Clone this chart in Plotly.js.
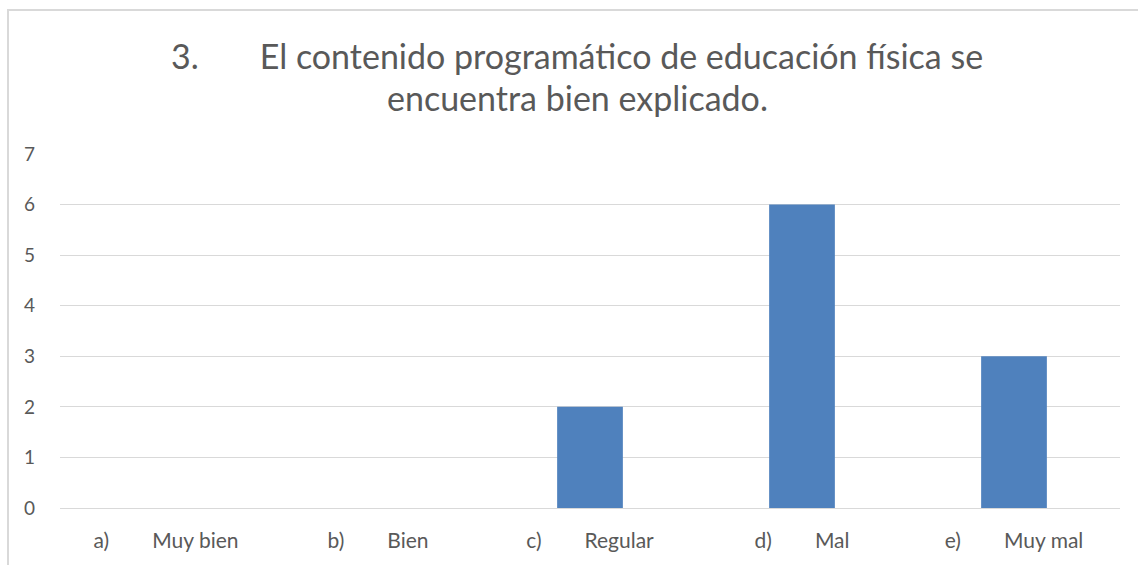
<!DOCTYPE html>
<html>
<head>
<meta charset="utf-8">
<script src="https://cdn.plot.ly/plotly-3.0.1.min.js"></script>
<style>
html,body{margin:0;padding:0;background:#fff;}
#wrap{position:relative;width:1138px;height:565px;overflow:hidden;}
#chart{position:absolute;left:0;top:0;width:1138px;height:565px;}
#frame{position:absolute;left:7px;top:9px;width:1140px;height:600px;border:2px solid #d9d9d9;box-sizing:border-box;pointer-events:none;}
</style>
</head>
<body>
<div id="wrap"><div id="chart"></div><div id="frame"></div></div>
<script>
var NB = '\u00A0';
var gap = NB.repeat(8);
var letters = ['a)', 'b)', 'c)', 'd)', 'e)'];
var names = ['Muy bien', 'Bien', 'Regular', 'Mal', 'Muy mal'];
var categories = letters.map(function(l, i){ return l + gap + names[i]; });
var values = [0, 0, 2, 6, 3];
var titleLine1 = '3.' + NB.repeat(7) + 'El contenido programático de educación física se';
var titleLine2 = 'encuentra bien explicado.';

var font = 'Lato, "Open Sans", sans-serif';
var plotTop = 154, plotBottom = 508;
function py(pix){ return (plotBottom - pix) / (plotBottom - plotTop); }
var titleFont = {family: font, size: 34, color: '#595959'};

Plotly.newPlot('chart', [{
  type: 'bar',
  x: categories,
  y: values,
  marker: {color: '#4F81BD'},
  hoverinfo: 'x+y'
}], {
  width: 1138, height: 565,
  margin: {l: 60, r: 18, t: plotTop, b: 565 - plotBottom},
  paper_bgcolor: '#fff', plot_bgcolor: '#fff',
  bargap: 0.69,
  annotations: [
    {text: titleLine1, xref: 'paper', yref: 'paper', x: 0.488, y: py(55), xanchor: 'center', yanchor: 'middle', showarrow: false, font: titleFont},
    {text: titleLine2, xref: 'paper', yref: 'paper', x: 0.488, y: py(98), xanchor: 'center', yanchor: 'middle', showarrow: false, font: titleFont}
  ],
  xaxis: {
    tickfont: {family: font, size: 21, color: '#595959'},
    showgrid: false, showline: false, ticks: '',
    ticklabelstandoff: 18
  },
  yaxis: {
    range: [0, 7], dtick: 1, tick0: 0,
    gridcolor: '#d9d9d9', gridwidth: 1,
    zeroline: true, zerolinecolor: '#d9d9d9', zerolinewidth: 1,
    showline: false, ticks: '',
    ticklabelstandoff: 24,
    tickfont: {family: font, size: 19, color: '#595959'}
  },
  showlegend: false
}, {displayModeBar: false, staticPlot: true});
</script>
</body>
</html>
